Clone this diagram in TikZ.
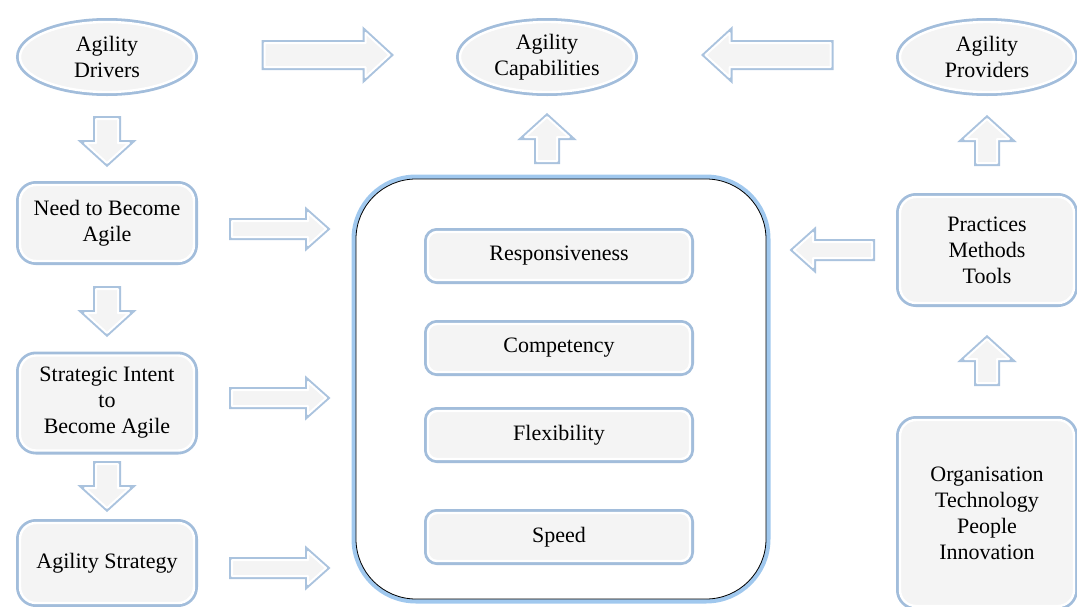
\documentclass[tikz,border=0pt]{standalone}
\usepackage{fontspec}
\setmainfont{Liberation Serif}
\usetikzlibrary{shapes.geometric}
\definecolor{glow}{RGB}{100,145,195}
\definecolor{halo}{RGB}{160,200,238}
\definecolor{panel}{RGB}{244,244,244}
\tikzset{
	shine/.style={preaction={draw=glow, line width=8pt, opacity=0.6}, draw=white, line width=2.4pt, fill=panel},
	oval/.style={ellipse, shine, minimum width=174pt, minimum height=70pt, align=center, inner sep=0pt},
	card/.style={shine, rounded corners=16pt, minimum width=174pt, align=center},
	tag/.style={shine, rounded corners=9pt, minimum width=262pt, minimum height=48pt},
	fatarrow/.style={preaction={draw=glow, line width=6pt, opacity=0.55}, draw=white, line width=2pt, fill=panel, line join=round},
	pics/blockarrow/.style n args={4}{code={
		\draw[fatarrow] (-#1/2,-#2) -- (#1/2-#4,-#2) -- (#1/2-#4,-#3) -- (#1/2,0) -- (#1/2-#4,#3) -- (#1/2-#4,#2) -- (-#1/2,#2) -- cycle;
	}}
}
\begin{document}
\begin{tikzpicture}[x=1pt, y=-1pt, font=\fontsize{22}{26}\selectfont]
	\useasboundingbox (0,0) rectangle (1077,606);
	% top row
	\node[oval] (drv) at (107,57) {Agility\\Drivers};
	\node[oval] (cap) at (547,57) {Agility\\Capabilities};
	\node[oval] (prov) at (987,57) {Agility\\Providers};
	\pic at (327,55) {blockarrow={125}{12}{22}{24}};
	\pic[rotate=180] at (768,55) {blockarrow={125}{12}{22}{24}};

	% left column
	\node[card, minimum height=76pt] (need) at (107,223) {Need to Become\\Agile};
	\node[card, minimum height=95pt] (intent) at (107,403) {Strategic Intent\\to\\Become Agile};
	\node[card, minimum height=80pt] (strat) at (107,563) {Agility Strategy};
	\pic[rotate=-90] at (107,141) {blockarrow={44}{11}{22}{20}};
	\pic[rotate=-90] at (107,311) {blockarrow={44}{11}{22}{20}};
	\pic[rotate=-90] at (107,486) {blockarrow={44}{11}{22}{20}};
	\pic at (279,229) {blockarrow={94}{8}{16}{18}};
	\pic at (279,398) {blockarrow={94}{8}{16}{18}};
	\pic at (279,568) {blockarrow={94}{8}{16}{18}};

	% capabilities
	\node[draw=black, line width=0.8pt, fill=white, rounded corners=60pt, minimum width=410pt, minimum height=420pt,
		preaction={draw=halo, line width=9pt}] (caps) at (561,389) {};
	\node[tag] (resp) at (559,256) {Responsiveness};
	\node[tag] (comp) at (559,348) {Competency};
	\node[tag] (flex) at (559,435) {Flexibility};
	\node[tag] (speed) at (559,537) {Speed};
	\pic[rotate=90] at (547,139) {blockarrow={44}{10}{22}{20}};

	% right column
	\node[card, minimum height=106pt] (prac) at (987,250) {Practices\\Methods\\Tools};
	\node[card, minimum height=186pt] (res) at (987,513) {Organisation\\Technology\\People\\Innovation};
	\pic[rotate=90] at (987,141) {blockarrow={44}{10}{22}{20}};
	\pic[rotate=90] at (987,361) {blockarrow={44}{10}{22}{20}};
	\pic[rotate=180] at (833,250) {blockarrow={78}{8}{17}{19}};
\end{tikzpicture}
\end{document}
